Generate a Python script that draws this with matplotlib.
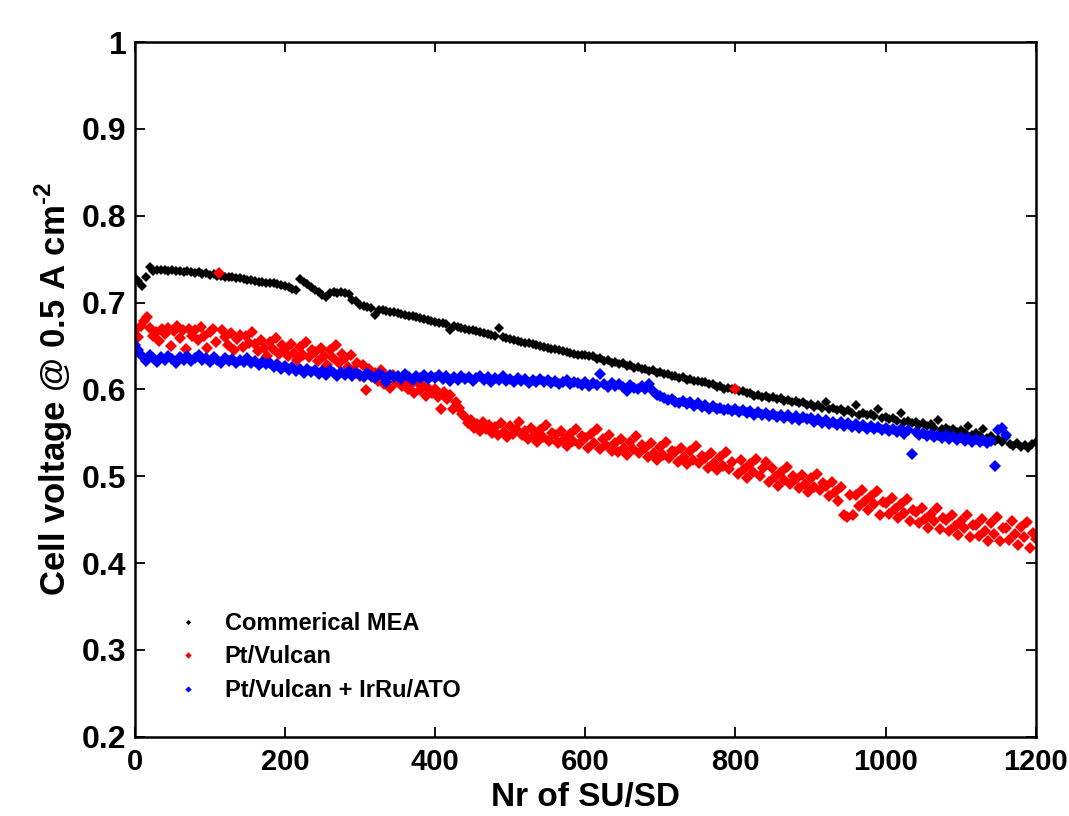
import numpy as np
import matplotlib
matplotlib.use("Agg")
import matplotlib.pyplot as plt

# cell voltage (V) at 0.5 A cm-2, every few SU/SD cycles
commercial_step = 5
commercial_mea = [
    0.728, 0.725, 0.719, 0.730, 0.741, 0.736, 0.738, 0.737, 0.738, 0.736,
    0.737, 0.736, 0.736, 0.735, 0.736, 0.735, 0.734, 0.735, 0.733, 0.734,
    0.732, 0.733, 0.731, 0.731, 0.730, 0.730, 0.729, 0.728, 0.728, 0.727,
    0.726, 0.726, 0.725, 0.724, 0.724, 0.723, 0.722, 0.722, 0.721, 0.720,
    0.719, 0.718, 0.716, 0.715, 0.727, 0.724, 0.721, 0.718, 0.715, 0.712,
    0.709, 0.706, 0.711, 0.712, 0.711, 0.712, 0.711, 0.710, 0.703, 0.702,
    0.697, 0.696, 0.695, 0.694, 0.686, 0.692, 0.691, 0.690, 0.689, 0.689,
    0.688, 0.687, 0.686, 0.685, 0.684, 0.683, 0.682, 0.681, 0.680, 0.679,
    0.678, 0.677, 0.676, 0.675, 0.669, 0.673, 0.672, 0.671, 0.670, 0.669,
    0.668, 0.667, 0.666, 0.665, 0.664, 0.663, 0.662, 0.671, 0.660, 0.659,
    0.658, 0.657, 0.656, 0.655, 0.654, 0.653, 0.652, 0.651, 0.650, 0.649,
    0.648, 0.647, 0.646, 0.645, 0.644, 0.643, 0.642, 0.641, 0.640, 0.640,
    0.640, 0.638, 0.638, 0.635, 0.636, 0.633, 0.634, 0.631, 0.632, 0.629,
    0.630, 0.627, 0.628, 0.625, 0.626, 0.623, 0.624, 0.621, 0.622, 0.619,
    0.620, 0.618, 0.618, 0.616, 0.616, 0.613, 0.614, 0.611, 0.612, 0.610,
    0.610, 0.608, 0.608, 0.606, 0.606, 0.603, 0.604, 0.601, 0.602, 0.600,
    0.600, 0.598, 0.598, 0.596, 0.596, 0.593, 0.594, 0.591, 0.592, 0.590,
    0.591, 0.589, 0.590, 0.587, 0.588, 0.585, 0.587, 0.584, 0.585, 0.582,
    0.583, 0.580, 0.582, 0.579, 0.586, 0.577, 0.579, 0.576, 0.578, 0.574,
    0.576, 0.573, 0.582, 0.571, 0.573, 0.570, 0.572, 0.569, 0.577, 0.567,
    0.568, 0.566, 0.567, 0.564, 0.573, 0.562, 0.564, 0.561, 0.563, 0.559,
    0.561, 0.558, 0.560, 0.556, 0.565, 0.554, 0.556, 0.553, 0.555, 0.551,
    0.553, 0.550, 0.558, 0.548, 0.550, 0.546, 0.555, 0.544, 0.546, 0.541,
    0.543, 0.539, 0.545, 0.537, 0.535, 0.538, 0.534, 0.536, 0.533, 0.537,
    0.540,
]

pt_vulcan_step = 4
pt_vulcan = [
    0.668, 0.660, 0.673, 0.679, 0.683, 0.671, 0.661, 0.666, 0.656, 0.670,
    0.664, 0.671, 0.650, 0.667, 0.673, 0.659, 0.668, 0.646, 0.670, 0.662,
    0.669, 0.657, 0.672, 0.661, 0.648, 0.666, 0.670, 0.655, 0.734, 0.668,
    0.660, 0.651, 0.665, 0.645, 0.658, 0.663, 0.649, 0.661, 0.654, 0.666,
    0.652, 0.644, 0.657, 0.648, 0.638, 0.655, 0.646, 0.659, 0.641, 0.651,
    0.647, 0.638, 0.652, 0.642, 0.634, 0.649, 0.640, 0.655, 0.637, 0.645,
    0.643, 0.633, 0.648, 0.638, 0.628, 0.645, 0.636, 0.651, 0.631, 0.641,
    0.636, 0.626, 0.640, 0.622, 0.631, 0.616, 0.628, 0.599, 0.623, 0.614,
    0.619, 0.610, 0.622, 0.606, 0.615, 0.602, 0.617, 0.609, 0.613, 0.604,
    0.610, 0.601, 0.606, 0.596, 0.609, 0.599, 0.604, 0.593, 0.601, 0.596,
    0.600, 0.591, 0.578, 0.597, 0.589, 0.594, 0.578, 0.586, 0.579, 0.572,
    0.568, 0.561, 0.565, 0.556, 0.560, 0.552, 0.563, 0.555, 0.559, 0.550,
    0.557, 0.548, 0.561, 0.551, 0.545, 0.558, 0.549, 0.554, 0.562, 0.547,
    0.552, 0.543, 0.556, 0.547, 0.540, 0.553, 0.545, 0.559, 0.541, 0.550,
    0.548, 0.538, 0.552, 0.543, 0.535, 0.549, 0.541, 0.555, 0.537, 0.546,
    0.544, 0.533, 0.549, 0.538, 0.554, 0.531, 0.543, 0.536, 0.547, 0.529,
    0.538, 0.528, 0.543, 0.533, 0.525, 0.540, 0.531, 0.546, 0.527, 0.536,
    0.533, 0.522, 0.538, 0.527, 0.519, 0.534, 0.525, 0.540, 0.521, 0.529,
    0.528, 0.517, 0.533, 0.522, 0.514, 0.529, 0.519, 0.535, 0.515, 0.523,
    0.521, 0.510, 0.527, 0.515, 0.507, 0.522, 0.512, 0.528, 0.508, 0.516,
    0.601, 0.503, 0.519, 0.508, 0.498, 0.514, 0.505, 0.520, 0.500, 0.509,
    0.517, 0.494, 0.510, 0.499, 0.489, 0.505, 0.496, 0.511, 0.491, 0.500,
    0.497, 0.486, 0.502, 0.491, 0.482, 0.498, 0.488, 0.503, 0.484, 0.492,
    0.489, 0.477, 0.494, 0.482, 0.472, 0.488, 0.455, 0.453, 0.479, 0.456,
    0.478, 0.466, 0.484, 0.471, 0.461, 0.477, 0.468, 0.483, 0.455, 0.470,
    0.469, 0.457, 0.475, 0.462, 0.452, 0.468, 0.458, 0.474, 0.449, 0.461,
    0.459, 0.446, 0.464, 0.451, 0.441, 0.457, 0.448, 0.463, 0.439, 0.452,
    0.450, 0.437, 0.455, 0.443, 0.432, 0.449, 0.440, 0.456, 0.430, 0.444,
    0.444, 0.431, 0.451, 0.437, 0.426, 0.446, 0.434, 0.453, 0.425, 0.440,
    0.440, 0.427, 0.448, 0.433, 0.421, 0.442, 0.430, 0.447, 0.417, 0.435,
    0.428,
]

irru_ato_step = 5
pt_vulcan_irru_ato = [
    0.651, 0.645, 0.638, 0.633, 0.640, 0.636, 0.632, 0.637, 0.634, 0.639,
    0.635, 0.631, 0.637, 0.634, 0.638, 0.633, 0.636, 0.640, 0.634, 0.636,
    0.632, 0.637, 0.634, 0.631, 0.636, 0.633, 0.635, 0.630, 0.634, 0.632,
    0.636, 0.631, 0.633, 0.628, 0.632, 0.629, 0.631, 0.626, 0.629, 0.624,
    0.627, 0.622, 0.626, 0.621, 0.624, 0.619, 0.623, 0.620, 0.622, 0.618,
    0.621, 0.617, 0.622, 0.619, 0.616, 0.620, 0.617, 0.621, 0.615, 0.619,
    0.617, 0.614, 0.619, 0.616, 0.613, 0.618, 0.615, 0.609, 0.617, 0.614,
    0.616, 0.612, 0.618, 0.614, 0.611, 0.616, 0.613, 0.617, 0.612, 0.615,
    0.613, 0.617, 0.612, 0.615, 0.610, 0.614, 0.611, 0.616, 0.612, 0.614,
    0.610, 0.613, 0.615, 0.611, 0.614, 0.609, 0.613, 0.611, 0.615, 0.610,
    0.612, 0.609, 0.613, 0.610, 0.612, 0.607, 0.611, 0.609, 0.612, 0.608,
    0.611, 0.607, 0.610, 0.606, 0.609, 0.611, 0.606, 0.609, 0.607, 0.605,
    0.608, 0.604, 0.607, 0.605, 0.618, 0.606, 0.603, 0.607, 0.604, 0.606,
    0.603, 0.598, 0.605, 0.602, 0.600, 0.604, 0.601, 0.606, 0.598, 0.594,
    0.592, 0.590, 0.588, 0.589, 0.586, 0.584, 0.587, 0.583, 0.585, 0.581,
    0.584, 0.580, 0.582, 0.578, 0.581, 0.577, 0.579, 0.576, 0.578, 0.575,
    0.577, 0.574, 0.576, 0.573, 0.575, 0.571, 0.574, 0.570, 0.573, 0.569,
    0.572, 0.568, 0.571, 0.567, 0.570, 0.566, 0.569, 0.565, 0.568, 0.566,
    0.567, 0.563, 0.566, 0.561, 0.565, 0.560, 0.563, 0.559, 0.562, 0.558,
    0.561, 0.557, 0.560, 0.556, 0.559, 0.555, 0.558, 0.554, 0.557, 0.553,
    0.556, 0.552, 0.555, 0.551, 0.554, 0.549, 0.553, 0.526, 0.551, 0.547,
    0.550, 0.546, 0.549, 0.545, 0.548, 0.544, 0.547, 0.543, 0.546, 0.542,
    0.545, 0.541, 0.544, 0.540, 0.543, 0.539, 0.542, 0.538, 0.541, 0.512,
    0.553, 0.556, 0.548,
]

x_ticks = [0, 200, 400, 600, 800, 1000, 1200]
y_ticks = [0.2, 0.3, 0.4, 0.5, 0.6, 0.7, 0.8, 0.9, 1.0]
y_ticklabels = ["0.2", "0.3", "0.4", "0.5", "0.6", "0.7", "0.8", "0.9", "1"]

plt.rcParams["font.family"] = ["Liberation Sans", "DejaVu Sans"]
plt.rcParams["font.weight"] = "bold"
plt.rcParams["mathtext.fontset"] = "custom"
plt.rcParams["mathtext.rm"] = "Liberation Sans:bold"
plt.rcParams["mathtext.bf"] = "Liberation Sans:bold"

fig = plt.figure(figsize=(10.69, 8.16), dpi=100)
ax = fig.add_axes([0.126, 0.097, 0.843, 0.8515])

series = [
    (commercial_mea, commercial_step, "Commerical MEA", "#000000", 4.8),
    (pt_vulcan, pt_vulcan_step, "Pt/Vulcan", "#ff0000", 6.0),
    (pt_vulcan_irru_ato, irru_ato_step, "Pt/Vulcan + IrRu/ATO", "#0000ff", 5.8),
]
for values, step, label, color, size in series:
    cycles = np.arange(len(values)) * step
    ax.plot(cycles, values, linestyle="none", marker="D", markersize=size,
            markeredgewidth=0, color=color, label=label)

ax.set_xlim(0, 1200)
ax.set_ylim(0.2, 1.0)
ax.set_xticks(x_ticks)
ax.set_yticks(y_ticks)
ax.set_yticklabels(y_ticklabels)
ax.tick_params(direction="in", length=7, width=1.3, top=True, right=True)
ax.tick_params(axis="x", pad=8, labelsize=21)
ax.tick_params(axis="y", pad=6, labelsize=23)
for spine in ax.spines.values():
    spine.set_linewidth(1.8)

ax.set_xlabel("Nr of SU/SD", fontsize=24, fontweight="bold", labelpad=4)
ax.set_ylabel("Cell voltage @ 0.5 A cm$^{\\text{-}2}$", fontsize=25,
              fontweight="bold", labelpad=5)

ax.legend(loc="upper left", bbox_to_anchor=(0.0455, 0.180), frameon=False,
          fontsize=17, markerscale=0.55, handlelength=1.0, handletextpad=1.08,
          labelspacing=0.45, borderpad=0, borderaxespad=0, numpoints=1)

fig.savefig("out.png", dpi=100)
